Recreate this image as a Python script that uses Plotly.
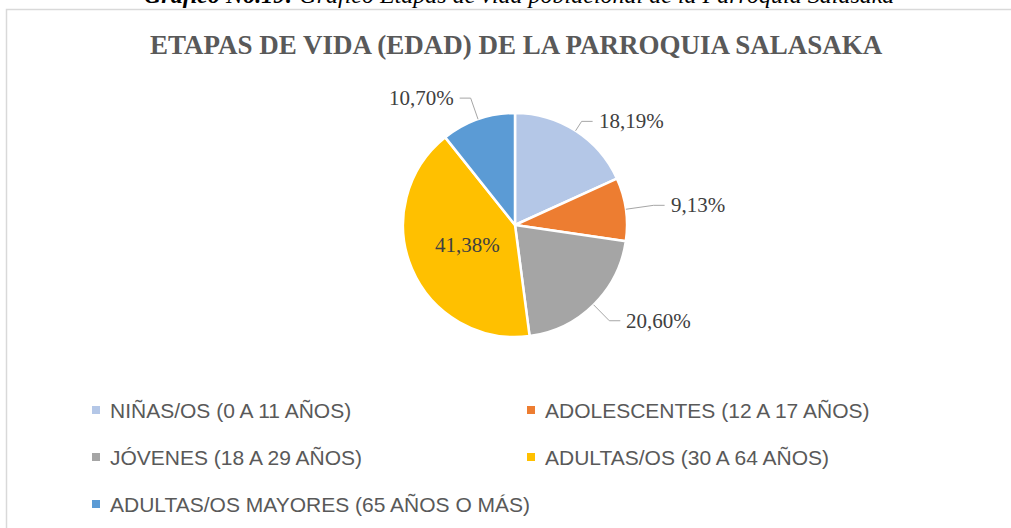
import math
import plotly.graph_objects as go

# ---------------- data ----------------
categories = [
    "NIÑAS/OS (0 A 11 AÑOS)",
    "ADOLESCENTES (12 A 17 AÑOS)",
    "JÓVENES (18 A 29 AÑOS)",
    "ADULTAS/OS (30 A 64 AÑOS)",
    "ADULTAS/OS MAYORES (65 AÑOS O MÁS)",
]
values = [18.19, 9.13, 20.60, 41.38, 10.70]
colors = ["#B4C7E7", "#ED7D31", "#A5A5A5", "#FFC000", "#5B9BD5"]
title_text = "ETAPAS DE VIDA (EDAD) DE LA PARROQUIA SALASAKA"
caption_bold = "Gráfico No.19:"
caption_rest = " Gráfico Etapas de vida poblacional de la Parroquia Salasaka"

# ---------------- layout constants (pixels) ----------------
W, H = 1011, 528
CX, CY, R = 515, 225, 112
label_mode = ["out", "out", "out", "in", "out"]
leader_factor = [1.10, 1.25, 1.20, 0.46, 1.20]
SEG, GAP = 11, 4
LEG_COLS_X = [92, 527]
LEG_ROWS_Y = [410, 457, 504]
SQ = 8


def px(x):
    return x / W


def py(y):
    return 1 - y / H


fig = go.Figure()
fig.add_trace(go.Pie(
    labels=categories,
    values=values,
    sort=False,
    direction="clockwise",
    rotation=0,
    textinfo="none",
    hoverinfo="label+percent",
    showlegend=False,
    marker=dict(colors=colors, line=dict(color="white", width=2.5)),
    domain=dict(x=[px(CX - R), px(CX + R)], y=[py(CY + R), py(CY - R)]),
))

annotations = []
shapes = []

# data labels with leader lines, positions derived from slice angles
total = sum(values)
cum = 0.0
for i, v in enumerate(values):
    mid = (cum + v / 2) / total * 2 * math.pi
    cum += v
    dx, dy = math.sin(mid), -math.cos(mid)
    txt = f"{v:.2f}%".replace(".", ",")
    f = leader_factor[i]
    if label_mode[i] == "in":
        annotations.append(dict(
            x=px(CX + R * f * dx), y=py(CY + R * f * dy), xref="paper", yref="paper",
            text=txt, showarrow=False, xanchor="center", yanchor="middle",
            font=dict(family="Liberation Serif", size=21, color="#404040"),
        ))
        continue
    ex, ey = CX + R * dx, CY + R * dy
    bx, by = CX + R * f * dx, CY + R * f * dy
    side = 1 if dx >= 0 else -1
    tx = bx + side * SEG
    shapes.append(dict(
        type="path", xref="paper", yref="paper",
        path=f"M {px(ex)},{py(ey)} L {px(bx)},{py(by)} L {px(tx)},{py(by)}",
        line=dict(color="#A6A6A6", width=1),
    ))
    annotations.append(dict(
        x=px(tx + side * GAP), y=py(by), xref="paper", yref="paper",
        text=txt, showarrow=False, xanchor="left" if side > 0 else "right",
        yanchor="middle",
        font=dict(family="Liberation Serif", size=21, color="#404040"),
    ))

# manual legend grid
for i, (cat, col) in enumerate(zip(categories, colors)):
    cx = LEG_COLS_X[i % 2]
    cy = LEG_ROWS_Y[i // 2]
    shapes.append(dict(
        type="rect", xref="paper", yref="paper",
        x0=px(cx), x1=px(cx + SQ), y0=py(cy + SQ / 2), y1=py(cy - SQ / 2),
        fillcolor=col, line=dict(width=0),
    ))
    annotations.append(dict(
        x=px(cx + SQ + 8), y=py(cy), xref="paper", yref="paper",
        text=cat, showarrow=False, xanchor="left", yanchor="middle",
        font=dict(family="Liberation Sans", size=21, color="#595959"),
    ))

# chart title
annotations.append(dict(
    x=px(516), y=py(45), xref="paper", yref="paper",
    text=f"<b>{title_text}</b>", showarrow=False, xanchor="center", yanchor="middle",
    font=dict(family="Liberation Serif", size=27, color="#595959"),
))

# document caption (cut off at the top, as in the source page)
annotations.append(dict(
    x=px(519), y=py(10), xref="paper", yref="paper",
    text=f"<b><i>{caption_bold}</i></b><i>{caption_rest}</i>",
    showarrow=False, xanchor="center", yanchor="bottom",
    font=dict(family="Liberation Serif", size=24, color="#000000"),
))

# chart frame
shapes.append(dict(
    type="rect", xref="paper", yref="paper",
    x0=px(6.5), x1=1.05, y0=-0.05, y1=py(9.5),
    line=dict(color="#D9D9D9", width=1.5), fillcolor="rgba(0,0,0,0)",
))

fig.update_layout(
    width=W, height=H,
    margin=dict(l=0, r=0, t=0, b=0),
    paper_bgcolor="white", plot_bgcolor="white",
    annotations=annotations,
    shapes=shapes,
    showlegend=False,
)

fig.write_html(
    "out.html",
    config={"displayModeBar": False},
    post_script="document.body.style.margin='0';document.body.style.overflow='hidden';",
)
